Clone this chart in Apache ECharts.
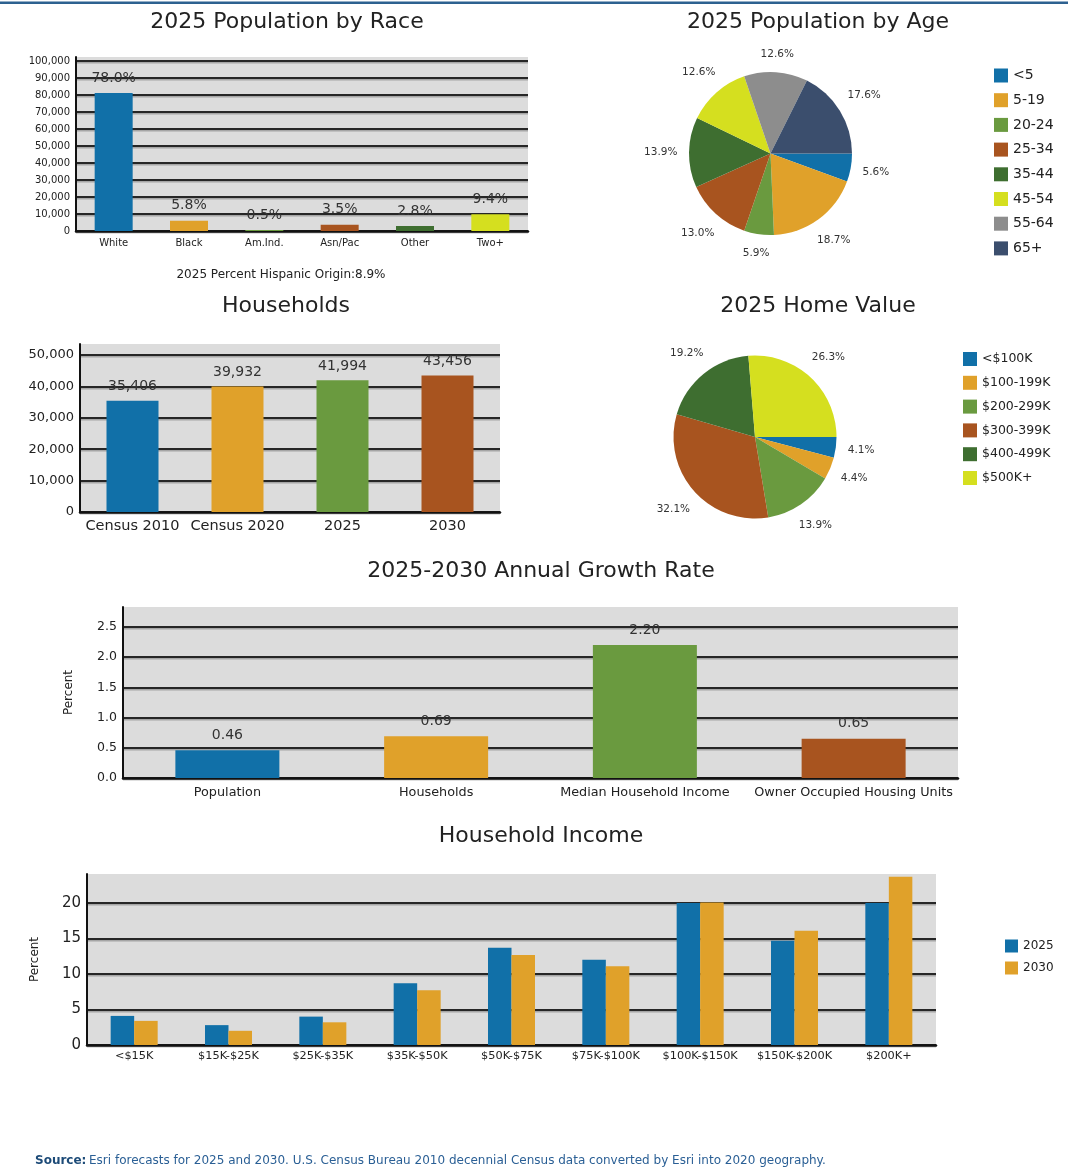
<!DOCTYPE html>
<html>
<head>
<meta charset="utf-8">
<script src="https://cdn.jsdelivr.net/npm/echarts@6/dist/echarts.min.js"></script>
<style>
  html, body { margin: 0; padding: 0; background: #ffffff; }
  #chart { width: 1068px; height: 1172px; }
</style>
</head>
<body>
<div id="chart"></div>
<script>
// ---- Data ----
const raceCategories = ['White', 'Black', 'Am.Ind.', 'Asn/Pac', 'Other', 'Two+'];
const racePercents = [78.0, 5.8, 0.5, 3.5, 2.8, 9.4];
const totalPopulation2025 = 104200;
const hispanicPercent = 8.9;

const ageGroups = ['<5', '5-19', '20-24', '25-34', '35-44', '45-54', '55-64', '65+'];
const agePercents = [5.6, 18.7, 5.9, 13.0, 13.9, 12.6, 12.6, 17.6];

const householdCategories = ['Census 2010', 'Census 2020', '2025', '2030'];
const householdCounts = [35406, 39932, 41994, 43456];

const homeValueBands = ['<$100K', '$100-199K', '$200-299K', '$300-399K', '$400-499K', '$500K+'];
const homeValuePercents = [4.1, 4.4, 13.9, 32.1, 19.2, 26.3];

const growthCategories = ['Population', 'Households', 'Median Household Income', 'Owner Occupied Housing Units'];
const growthRates = [0.46, 0.69, 2.20, 0.65];

const incomeBands = ['<$15K', '$15K-$25K', '$25K-$35K', '$35K-$50K', '$50K-$75K', '$75K-$100K', '$100K-$150K', '$150K-$200K', '$200K+'];
const incomeYears = ['2025', '2030'];
const income2025 = [4.1, 2.8, 4.0, 8.7, 13.7, 12.0, 20.0, 14.7, 20.0];
const income2030 = [3.4, 2.0, 3.2, 7.7, 12.7, 11.1, 20.1, 16.1, 23.7];

// ---- Styling ----
const FONT = '"DejaVu Sans", Verdana, sans-serif';
const palette = ['#1170a8', '#e0a12a', '#6a9a3f', '#a8541f', '#3e6e30', '#d5df1f', '#8d8d8d', '#3b4e6d'];
const TEXT = '#222222';
const PLOT_BG = '#dcdcdc';

const raceCounts = racePercents.map(p => p / 100 * totalPopulation2025);

function byIndexColor(p) { return palette[p.dataIndex]; }

function valueAxis(gridIndex, max, interval, fontSize, formatter, extra) {
  return Object.assign({
    type: 'value', gridIndex, min: 0, max, interval,
    axisLine: { show: true, lineStyle: { color: '#111', width: 2 } },
    axisTick: { show: false },
    axisLabel: { fontFamily: FONT, fontSize, color: TEXT, margin: 6, formatter, showMaxLabel: false },
    splitLine: {
      show: true, showMaxLine: false,
      lineStyle: { color: '#262626', width: 2, shadowColor: 'rgba(0,0,0,0.25)', shadowOffsetY: 1.5 }
    }
  }, extra || {});
}

function categoryAxis(gridIndex, data, fontSize, margin) {
  return {
    type: 'category', gridIndex, data,
    axisLine: { show: true, lineStyle: { color: '#111', width: 2.5 } },
    axisTick: { show: false },
    axisLabel: { fontFamily: FONT, fontSize, color: TEXT, margin, interval: 0 }
  };
}

function pieData(names, values) {
  return names.map((n, i) => ({ name: n, value: values[i], itemStyle: { color: palette[i] } }));
}

// Places each slice label just outside a ring, centred on the slice's mid angle.
function pieLabelLayout(values, cx, cy, ringR) {
  const total = values.reduce((a, b) => a + b, 0);
  const mids = [];
  let acc = 0;
  values.forEach(v => { mids.push((acc + v / 2) / total * 2 * Math.PI); acc += v; });
  return function (params) {
    const a = mids[params.dataIndex];
    const c = Math.cos(a), s = Math.sin(a);
    const hw = params.labelRect.width / 2, hh = params.labelRect.height / 2;
    const r = ringR + hw * Math.abs(c) + hh * Math.abs(s);
    return { x: cx + r * c, y: cy + r * s, align: 'center', verticalAlign: 'middle' };
  };
}

function titleText(text, x, y) {
  return { type: 'text', x, y, style: { text, fontFamily: FONT, fontSize: 22, fill: TEXT, align: 'center', verticalAlign: 'middle' } };
}

const gridBase = { show: true, backgroundColor: PLOT_BG, borderWidth: 0, containLabel: false };

// bars live on their own layer so the grid lines stay behind them
const barBase = { zlevel: 1 };

const option = {
  animation: false,
  textStyle: { fontFamily: FONT },
  grid: [
    Object.assign({ left: 76, top: 57, width: 452, height: 174 }, gridBase),
    Object.assign({ left: 80, top: 344, width: 420, height: 168 }, gridBase),
    Object.assign({ left: 123, top: 607, width: 835, height: 171 }, gridBase),
    Object.assign({ left: 87, top: 874, width: 849, height: 171 }, gridBase)
  ],
  xAxis: [
    categoryAxis(0, raceCategories, 10, 7),
    categoryAxis(1, householdCategories, 14.5, 7),
    categoryAxis(2, growthCategories, 12.8, 8),
    categoryAxis(3, incomeBands, 11.3, 6)
  ],
  yAxis: [
    valueAxis(0, 102400, 10000, 10, v => v.toLocaleString('en-US')),
    valueAxis(1, 53500, 10000, 13, v => v.toLocaleString('en-US')),
    valueAxis(2, 2.83, 0.5, 12.5, v => v.toFixed(1), {
      name: 'Percent', nameLocation: 'middle', nameRotate: 90, nameGap: 48,
      nameTextStyle: { fontFamily: FONT, fontSize: 12, color: TEXT }
    }),
    valueAxis(3, 24.1, 5, 15, v => String(v), {
      name: 'Percent', nameLocation: 'middle', nameRotate: 90, nameGap: 46,
      nameTextStyle: { fontFamily: FONT, fontSize: 12, color: TEXT }
    })
  ],
  legend: [
    {
      data: ageGroups, orient: 'vertical', left: 989, top: 63.5,
      itemWidth: 14, itemHeight: 14, itemGap: 10.7, icon: 'rect',
      textStyle: { fontFamily: FONT, fontSize: 14, color: TEXT }, selectedMode: false
    },
    {
      data: homeValueBands, orient: 'vertical', left: 958, top: 347,
      itemWidth: 14, itemHeight: 14, itemGap: 9.8, icon: 'rect',
      textStyle: { fontFamily: FONT, fontSize: 12.5, color: TEXT }, selectedMode: false
    },
    {
      data: incomeYears, orient: 'vertical', left: 1000, top: 934.5,
      itemWidth: 13, itemHeight: 13, itemGap: 9, icon: 'rect',
      textStyle: { fontFamily: FONT, fontSize: 12, color: TEXT }, selectedMode: false
    }
  ],
  series: [
    Object.assign({
      name: 'Population by Race', type: 'bar', xAxisIndex: 0, yAxisIndex: 0,
      data: raceCounts, barWidth: 38,
      itemStyle: { color: byIndexColor },
      label: {
        show: true, position: 'top', distance: 8, fontFamily: FONT, fontSize: 14, color: '#333',
        formatter: p => racePercents[p.dataIndex].toFixed(1) + '%'
      }
    }, barBase),
    Object.assign({
      name: 'Households', type: 'bar', xAxisIndex: 1, yAxisIndex: 1,
      data: householdCounts, barWidth: 52,
      itemStyle: { color: byIndexColor },
      label: {
        show: true, position: 'top', distance: 7, fontFamily: FONT, fontSize: 14, color: '#333',
        formatter: p => p.value.toLocaleString('en-US')
      }
    }, barBase),
    Object.assign({
      name: 'Annual Growth Rate', type: 'bar', xAxisIndex: 2, yAxisIndex: 2,
      data: growthRates, barWidth: 104,
      itemStyle: { color: byIndexColor },
      label: {
        show: true, position: 'top', distance: 8, fontFamily: FONT, fontSize: 14, color: '#333',
        formatter: p => p.value.toFixed(2)
      }
    }, barBase),
    Object.assign({
      name: incomeYears[0], type: 'bar', xAxisIndex: 3, yAxisIndex: 3,
      data: income2025, barWidth: 23.5, barGap: '0%',
      itemStyle: { color: palette[0] }
    }, barBase),
    Object.assign({
      name: incomeYears[1], type: 'bar', xAxisIndex: 3, yAxisIndex: 3,
      data: income2030, barWidth: 23.5, barGap: '0%',
      itemStyle: { color: palette[1] }
    }, barBase),
    {
      name: 'Population by Age', type: 'pie', center: [770.5, 153.5], radius: 81.5,
      startAngle: 0, clockwise: true, avoidLabelOverlap: false,
      data: pieData(ageGroups, agePercents),
      label: { show: true, position: 'outside', fontFamily: FONT, fontSize: 10.5, color: '#333', formatter: p => p.value.toFixed(1) + '%' },
      labelLine: { show: false },
      labelLayout: pieLabelLayout(agePercents, 770.5, 153.5, 93)
    },
    {
      name: 'Home Value', type: 'pie', center: [755, 437], radius: 81.5,
      startAngle: 0, clockwise: true, avoidLabelOverlap: false,
      data: pieData(homeValueBands, homeValuePercents),
      label: { show: true, position: 'outside', fontFamily: FONT, fontSize: 10.5, color: '#333', formatter: p => p.value.toFixed(1) + '%' },
      labelLine: { show: false },
      labelLayout: pieLabelLayout(homeValuePercents, 755, 437, 93)
    }
  ],
  graphic: [
    { type: 'rect', shape: { x: 0, y: 1.5, width: 1068, height: 2.5 }, style: { fill: '#2d6190' } },
    titleText('2025 Population by Race', 287, 22),
    titleText('2025 Population by Age', 818, 22),
    titleText('Households', 286, 306),
    titleText('2025 Home Value', 818, 306),
    titleText('2025-2030 Annual Growth Rate', 541, 571),
    titleText('Household Income', 541, 836),
    {
      type: 'text', x: 281, y: 275,
      style: { text: '2025 Percent Hispanic Origin:' + hispanicPercent.toFixed(1) + '%', fontFamily: FONT, fontSize: 12, fill: TEXT, align: 'center', verticalAlign: 'middle' }
    },
    {
      type: 'text', x: 35, y: 1161,
      style: { text: 'Source:', fontFamily: FONT, fontSize: 12, fontWeight: 'bold', fill: '#1d4b78', verticalAlign: 'middle' }
    },
    {
      type: 'text', x: 89, y: 1161,
      style: { text: 'Esri forecasts for 2025 and 2030. U.S. Census Bureau 2010 decennial Census data converted by Esri into 2020 geography.', fontFamily: FONT, fontSize: 12, fill: '#2a5f95', verticalAlign: 'middle' }
    }
  ]
};

const chart = echarts.init(document.getElementById('chart'), null, { renderer: 'canvas' });
chart.setOption(option);
</script>
</body>
</html>
